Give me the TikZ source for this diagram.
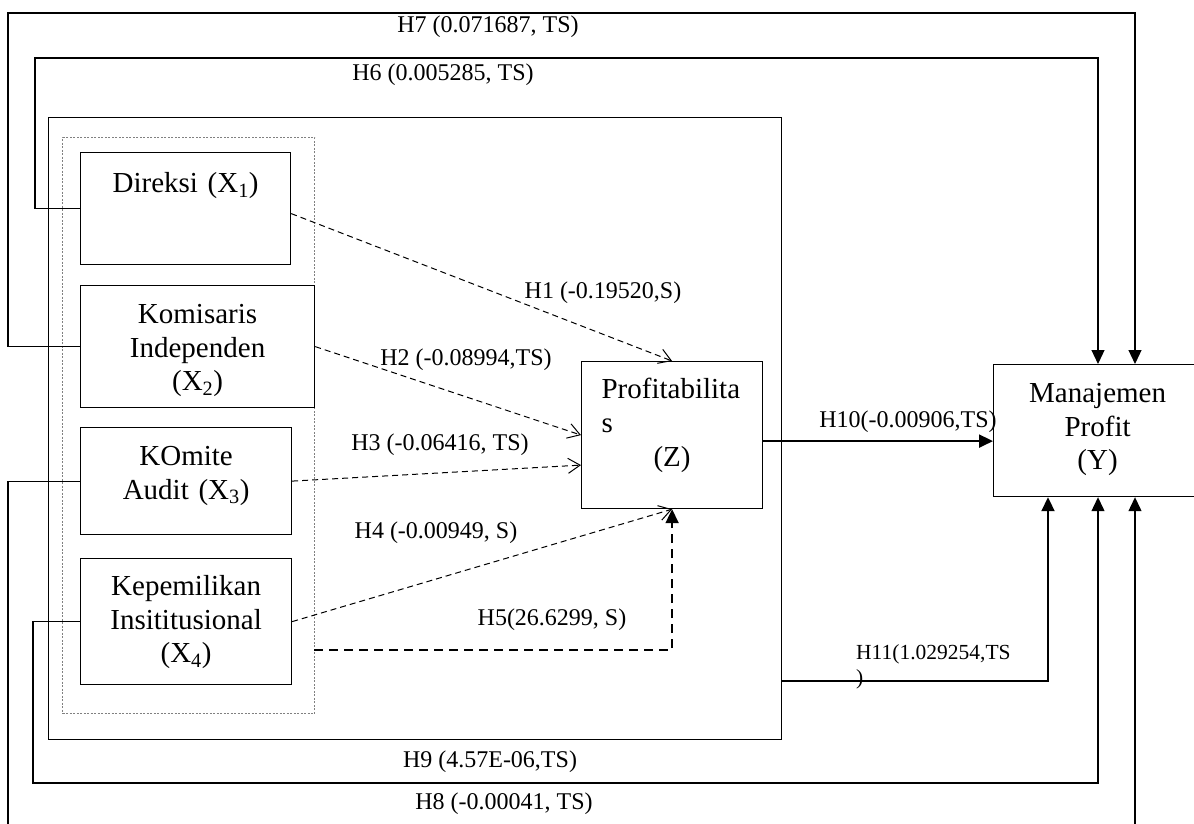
\documentclass[tikz,border=0pt]{standalone}
\usepackage{fontspec}
\setmainfont{Liberation Serif}
\usetikzlibrary{arrows.meta}

\begin{document}
\begin{tikzpicture}[x=1pt, y=-1pt,
  var/.style={draw, line width=1.2pt, anchor=north west, inner sep=0pt, align=center,
    font=\fontsize{29}{33.5}\selectfont},
  lbl/.style={inner sep=0pt, font=\fontsize{24}{28}\selectfont},
  ln/.style={line width=1.2pt},
  hyp/.style={line width=1pt, dash pattern=on 6pt off 4pt, -{Straight Barb[length=12pt,width=15pt]}},
  tip/.style={-{Triangle[length=14pt,width=13pt]}}]
  \useasboundingbox (0,0) rectangle (1194,824);
  \clip (0,0) rectangle (1194,824);

  % frames round the independent variables
  \node[draw, line width=1.2pt, anchor=north west, minimum width=733, minimum height=622, inner sep=0pt] (ctr) at (48,117) {};
  \node[draw, gray, line width=1pt, dash pattern=on 2pt off 1.5pt, anchor=north west, minimum width=252, minimum height=576, inner sep=0pt] (grp) at (62,137) {};

  % variables
  \node[var, text width=210, text height=40, text depth=72] (x1) at (80,152) {Direksi (X\textsubscript{1})};
  \node[var, text width=234, text height=38, text depth=84] (x2) at (80,285) {Komisaris\\Independen\\(X\textsubscript{2})};
  \node[var, text width=211, text height=38, text depth=69] (x3) at (80,427) {KOmite\\Audit (X\textsubscript{3})};
  \node[var, text width=211, text height=37, text depth=89] (x4) at (80,558) {Kepemilikan\\Insititusional\\(X\textsubscript{4})};
  \node[var, align=left, inner xsep=20pt, text width=141, text height=37, text depth=110,
    font=\fontsize{29}{34}\selectfont] (z) at (581,361) {Profitabilita\\s\\\makebox[\linewidth]{(Z)}};
  \node[var, text width=208, text height=38, text depth=94] (y) at (993,364) {Manajemen\\Profit\\(Y)};

  % bend points
  \coordinate (c5) at (314,650);
  \coordinate (c6) at (1098,58);
  \coordinate (c7) at (1135,13);
  \coordinate (c8) at (1135,835);
  \coordinate (c9) at (1098,783);
  \coordinate (c10) at ([yshift=-6pt]z.east);
  \coordinate (c11) at (1048,681);

  % hypotheses
  \draw[hyp] ([yshift=-5pt]x1.east) -- (z.north);
  \draw[hyp] (x2.east) -- (z.west);
  \draw[hyp] (x3.east) -- ([yshift=-30pt]z.west);
  \draw[hyp] (x4.east) -- (z.south);
  \draw[line width=2pt, dash pattern=on 9pt off 6pt, tip] (c5) -| (z.south);
  \draw[ln, tip] (x1.west) -- ++(-45,0) |- (c6) -- (c6 |- y.north);
  \draw[ln, tip] (x2.west) -- ++(-72,0) |- (c7) -- (c7 |- y.north);
  \draw[ln, tip] (x3.west) -- ++(-72,0) |- (c8) -- (c8 |- y.south);
  \draw[ln, tip] (x4.west) -- ++(-47,0) |- (c9) -- (c9 |- y.south);
  \draw[line width=2pt, tip] (c10) -- (c10 -| y.west);
  \draw[line width=2pt, tip] (c11 -| ctr.east) -- (c11) -- (c11 |- y.south);

  % labels
  \node[lbl] (h1) at (603,293) {H1 (-0.19520,S)};
  \node[lbl] (h2) at (466,360) {H2 (-0.08994,TS)};
  \node[lbl] (h3) at (440,445) {H3 (-0.06416, TS)};
  \node[lbl] (h4) at (436,533) {H4 (-0.00949, S)};
  \node[lbl] (h5) at (552,620) {H5(26.6299, S)};
  \node[lbl] (h6) at (443,75) {H6 (0.005285, TS)};
  \node[lbl] (h7) at (488,27) {H7 (0.071687, TS)};
  \node[lbl] (h8) at (504,804) {H8 (-0.00041, TS)};
  \node[lbl] (h9) at (490,762) {H9 (4.57E-06,TS)};
  \node[lbl] (h10) at (908,422) {H10(-0.00906,TS)};
  \node[lbl, anchor=base west, align=left, text width=170, font=\fontsize{21.5}{25}\selectfont] (h11) at (856,659) {H11(1.029254,TS\\)};
\end{tikzpicture}
\end{document}
